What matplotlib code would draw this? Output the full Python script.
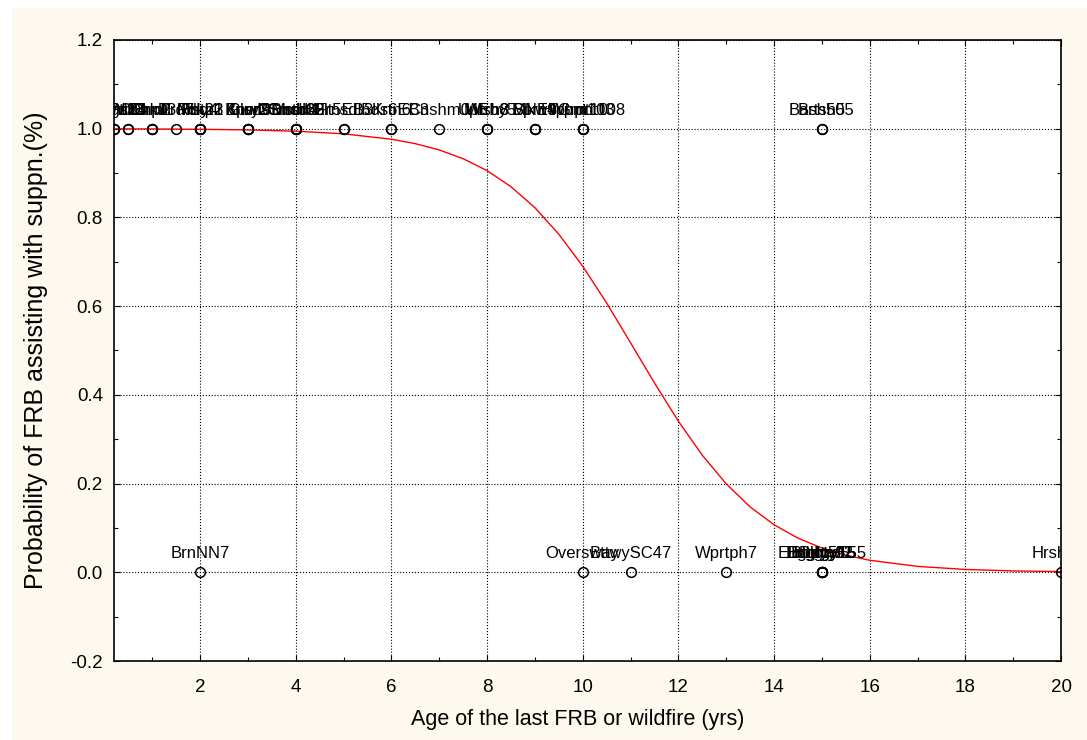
import matplotlib
matplotlib.use('Agg')
import matplotlib.pyplot as plt
from matplotlib.patches import Rectangle
from matplotlib.ticker import MultipleLocator, FormatStrFormatter

# observacoes: idade do ultimo FRB/incendio, se houve apoio (1/0), nome do local
idades_sim = [0.2, 0.2, 0.2, 0.5, 0.5, 1, 1, 1, 1.5, 2, 2, 2, 2,
              3, 3, 3, 3, 4, 4, 4, 4, 5, 5, 6, 6, 7,
              8, 8, 8, 9, 9, 9, 10, 10, 10, 15, 15]
locais_sim = ['Lsmr1', 'Kngs2', 'Mrrn05', 'Wllr3', 'Ptrs4', 'Brkl2', 'Dnml3', 'Chpl1',
              'Jrrd7', 'Frst22', 'Mndr3', 'Hlly4', 'Rckp1', 'Glnr2', 'Bnsd6', 'Tpry3',
              'Knwl9', 'Crsdl65', 'Mrdn4', 'Bnsdl1', 'Smth02', 'Hlt5EB3', 'Frnsdl5',
              'Lnds6EB3', 'Krtn6', 'Cnshm0', 'UpEby5', 'Wtrn8', 'Mrsh8', 'MNE5',
              'Sprn4', 'Blkw9', 'Wpnt103', 'Hlphpnt108', 'Grnt10', 'Bash505', 'Brtsh5']

idades_nao = [2, 10, 11, 13, 15, 15, 15, 15, 15, 15, 20]
locais_nao = ['BrnNN7', 'Oversway', 'BttwySC47', 'Wprtph7', 'Erbdgy15', 'Hghtw5',
              'Dlgty5', 'Bggly515', 'Brmtn12', 'Elmbrgy155', 'Hrshm7']

# curva logistica ajustada
curva_x = [0.2, 1, 2, 3, 4, 5, 6, 6.5, 7, 7.5, 8, 8.5, 9, 9.5, 10, 10.5, 11,
           11.5, 12, 12.5, 13, 13.5, 14, 14.5, 15, 15.5, 16, 17, 18, 19, 20]
curva_p = [0.9997, 0.9994, 0.9987, 0.9973, 0.9944, 0.9885, 0.9763, 0.9663,
           0.9522, 0.9324, 0.9055, 0.8693, 0.8220, 0.7622, 0.6900, 0.6071,
           0.5175, 0.4268, 0.3407, 0.2640, 0.1994, 0.1474, 0.1072, 0.0770,
           0.0547, 0.0386, 0.0271, 0.0133, 0.0064, 0.0031, 0.0015]

plt.rcParams['font.family'] = ['Liberation Sans', 'DejaVu Sans']
plt.rcParams['font.size'] = 12

fig = plt.figure(figsize=(10.87, 7.40), dpi=100)
fig.patch.set_facecolor('white')
# fundo creme (com faixa branca a esquerda e em cima)
fig.patches.append(Rectangle((12 / 1087, 0), 1, 732 / 740, transform=fig.transFigure,
                             facecolor='#fdf9ee', edgecolor='none', zorder=-1))

ax = fig.add_axes([114 / 1087, 79 / 740, 947 / 1087, 621 / 740])
ax.set_facecolor('white')

ax.plot(curva_x, curva_p, color='red', linewidth=1.0, zorder=2)

ax.plot(idades_sim, [1] * len(idades_sim), 'o', mfc='none', mec='black',
        ms=7, mew=1.1, zorder=3)
ax.plot(idades_nao, [0] * len(idades_nao), 'o', mfc='none', mec='black',
        ms=7, mew=1.1, zorder=3)

# rotulos dos locais em cima dos pontos
for x, nome in zip(idades_sim, locais_sim):
    ax.annotate(nome, (x, 1), xytext=(0, 10), textcoords='offset points',
                ha='center', va='baseline', fontsize=12, clip_on=True)
for x, nome in zip(idades_nao, locais_nao):
    ax.annotate(nome, (x, 0), xytext=(0, 10), textcoords='offset points',
                ha='center', va='baseline', fontsize=12, clip_on=True)

ax.set_xlim(0.2, 20)
ax.set_ylim(-0.2, 1.2)
ax.xaxis.set_major_locator(MultipleLocator(2))
ax.xaxis.set_minor_locator(MultipleLocator(1))
ax.yaxis.set_major_locator(MultipleLocator(0.2))
ax.yaxis.set_minor_locator(MultipleLocator(0.1))
ax.yaxis.set_major_formatter(FormatStrFormatter('%.1f'))

ax.tick_params(which='both', direction='in', top=True, right=True, colors='black',
               labelsize=13.5)
ax.tick_params(which='major', length=4, width=0.8)
ax.tick_params(which='minor', length=3, width=0.8)
ax.tick_params(axis='x', pad=13)
ax.tick_params(axis='y', pad=8)

ax.grid(True, which='major', linestyle=':', color='black', linewidth=0.8)
ax.set_axisbelow(True)
for s in ax.spines.values():
    s.set_color('black')
    s.set_linewidth(1.2)

ax.set_xlabel('Age of the last FRB or wildfire (yrs)', fontsize=15.5)
ax.set_ylabel('Probability of FRB assisting with suppn.(%)', fontsize=18)
ax.xaxis.set_label_coords(0.49, -0.077)
ax.yaxis.set_label_coords(-0.07, 0.5)

plt.savefig('out.png', dpi=100)
